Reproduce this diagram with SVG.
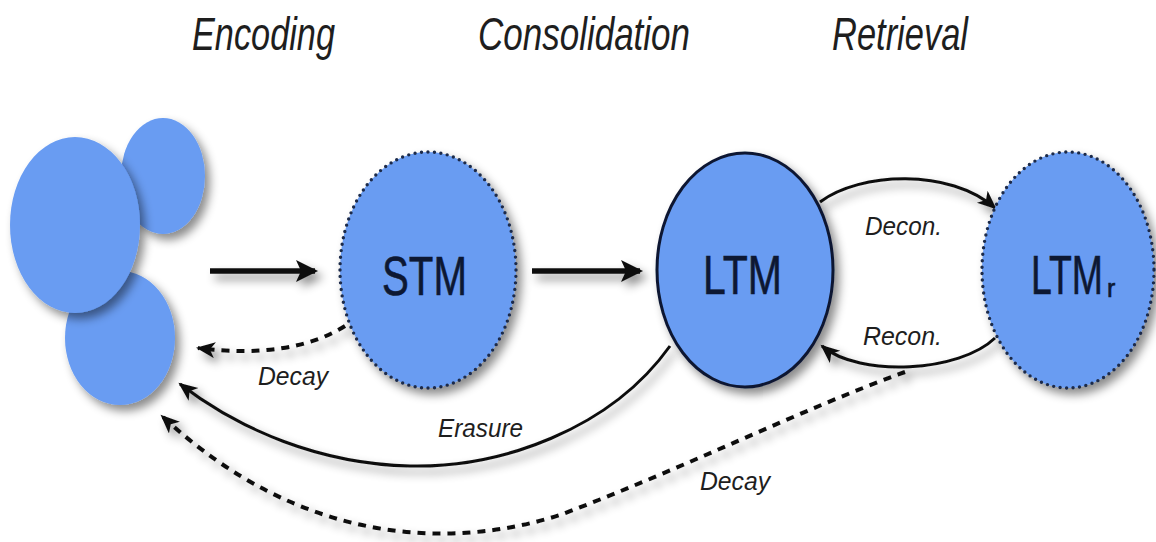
<svg xmlns="http://www.w3.org/2000/svg" width="1156" height="542" viewBox="0 0 1156 542">
<style>
.title{font-family:"Liberation Sans",Arial,sans-serif;font-style:italic;font-size:46px;fill:#1e1e1e}
.lbl{font-family:"Liberation Sans",Arial,sans-serif;font-style:italic;font-size:26px;fill:#1e1e1e}
.node{font-family:"Liberation Sans",Arial,sans-serif;font-size:56px;fill:#0d1833;stroke:#0d1833;stroke-width:0.6}
.blob{fill:#699cf2}
.dotted{fill:#699cf2;stroke:#1b2a4a;stroke-width:3.4;stroke-dasharray:0 6.5;stroke-linecap:round}
.solid{fill:#699cf2;stroke:#0d1833;stroke-width:3}
.conn{fill:none;stroke:#111;stroke-width:3}
.dash{fill:none;stroke:#111;stroke-width:4;stroke-dasharray:8 7}
.big{fill:none;stroke:#111;stroke-width:5.5}
</style>
<defs>
<filter id="sh" x="-30%" y="-30%" width="160%" height="160%">
<feDropShadow dx="5" dy="6" stdDeviation="5" flood-color="#000" flood-opacity="0.45"/>
</filter>
<marker id="ah" markerUnits="userSpaceOnUse" markerWidth="22" markerHeight="18" refX="17" refY="8" orient="auto">
<path d="M0,0 L19,8 L0,16 L5,8 z" fill="#111"/>
</marker>
<marker id="ahb" markerUnits="userSpaceOnUse" markerWidth="24" markerHeight="24" refX="19" refY="11" orient="auto">
<path d="M0,0 L22,11 L0,22 L5,11 z" fill="#111"/>
</marker>
</defs>
<rect width="1156" height="542" fill="#fff"/>
<g id="titles">
<text class="title" x="192" y="50" textLength="143" lengthAdjust="spacingAndGlyphs">Encoding</text>
<text class="title" x="478" y="50" textLength="212" lengthAdjust="spacingAndGlyphs">Consolidation</text>
<text class="title" x="832" y="50" textLength="136" lengthAdjust="spacingAndGlyphs">Retrieval</text>
</g>
<g id="items">
<ellipse class="blob" cx="163" cy="176" rx="42" ry="58" filter="url(#sh)"/>
<ellipse class="blob" cx="120" cy="338" rx="55" ry="67" filter="url(#sh)"/>
<ellipse class="blob" cx="75" cy="225" rx="65" ry="88" filter="url(#sh)"/>
</g>
<g id="connectors" filter="url(#sh)">
<line class="big" x1="210" y1="271" x2="315" y2="271" marker-end="url(#ahb)"/>
<line class="big" x1="532" y1="271" x2="640" y2="271" marker-end="url(#ahb)"/>
<path class="dash" d="M345 326 C310 348 260 356 198 348" marker-end="url(#ah)"/>
<path class="conn" d="M670 346 C610 430 500 468 410 466 C320 464 240 430 180 384" marker-end="url(#ah)"/>
<path class="dash" d="M905 372 C800 410 680 470 560 515 C450 550 300 545 162 416" marker-end="url(#ah)"/>
<path class="conn" d="M820 202 C860 172 950 168 995 208" marker-end="url(#ah)"/>
<path class="conn" d="M995 338 C960 372 860 378 822 346" marker-end="url(#ah)"/>
</g>
<g id="stm">
<ellipse class="dotted" cx="428" cy="270" rx="88" ry="118" filter="url(#sh)"/>
<text class="node" x="382" y="295" textLength="85" lengthAdjust="spacingAndGlyphs">STM</text>
</g>
<g id="ltm">
<ellipse class="solid" cx="745" cy="270" rx="88" ry="117" filter="url(#sh)"/>
<text class="node" x="703" y="294" textLength="79" lengthAdjust="spacingAndGlyphs">LTM</text>
</g>
<g id="ltmr">
<ellipse class="dotted" cx="1068" cy="270" rx="86" ry="118" filter="url(#sh)"/>
<text class="node" x="1031" y="294"><tspan textLength="72" lengthAdjust="spacingAndGlyphs">LTM</tspan><tspan x="1107" dy="3" style="font-size:25px">r</tspan></text>
</g>
<g id="labels">
<text class="lbl" x="258" y="385" textLength="70" lengthAdjust="spacingAndGlyphs">Decay</text>
<text class="lbl" x="438" y="437" textLength="85" lengthAdjust="spacingAndGlyphs">Erasure</text>
<text class="lbl" x="700" y="490" textLength="70" lengthAdjust="spacingAndGlyphs">Decay</text>
<text class="lbl" x="865" y="235" textLength="77" lengthAdjust="spacingAndGlyphs">Decon.</text>
<text class="lbl" x="863" y="345" textLength="79" lengthAdjust="spacingAndGlyphs">Recon.</text>
</g>
</svg>
